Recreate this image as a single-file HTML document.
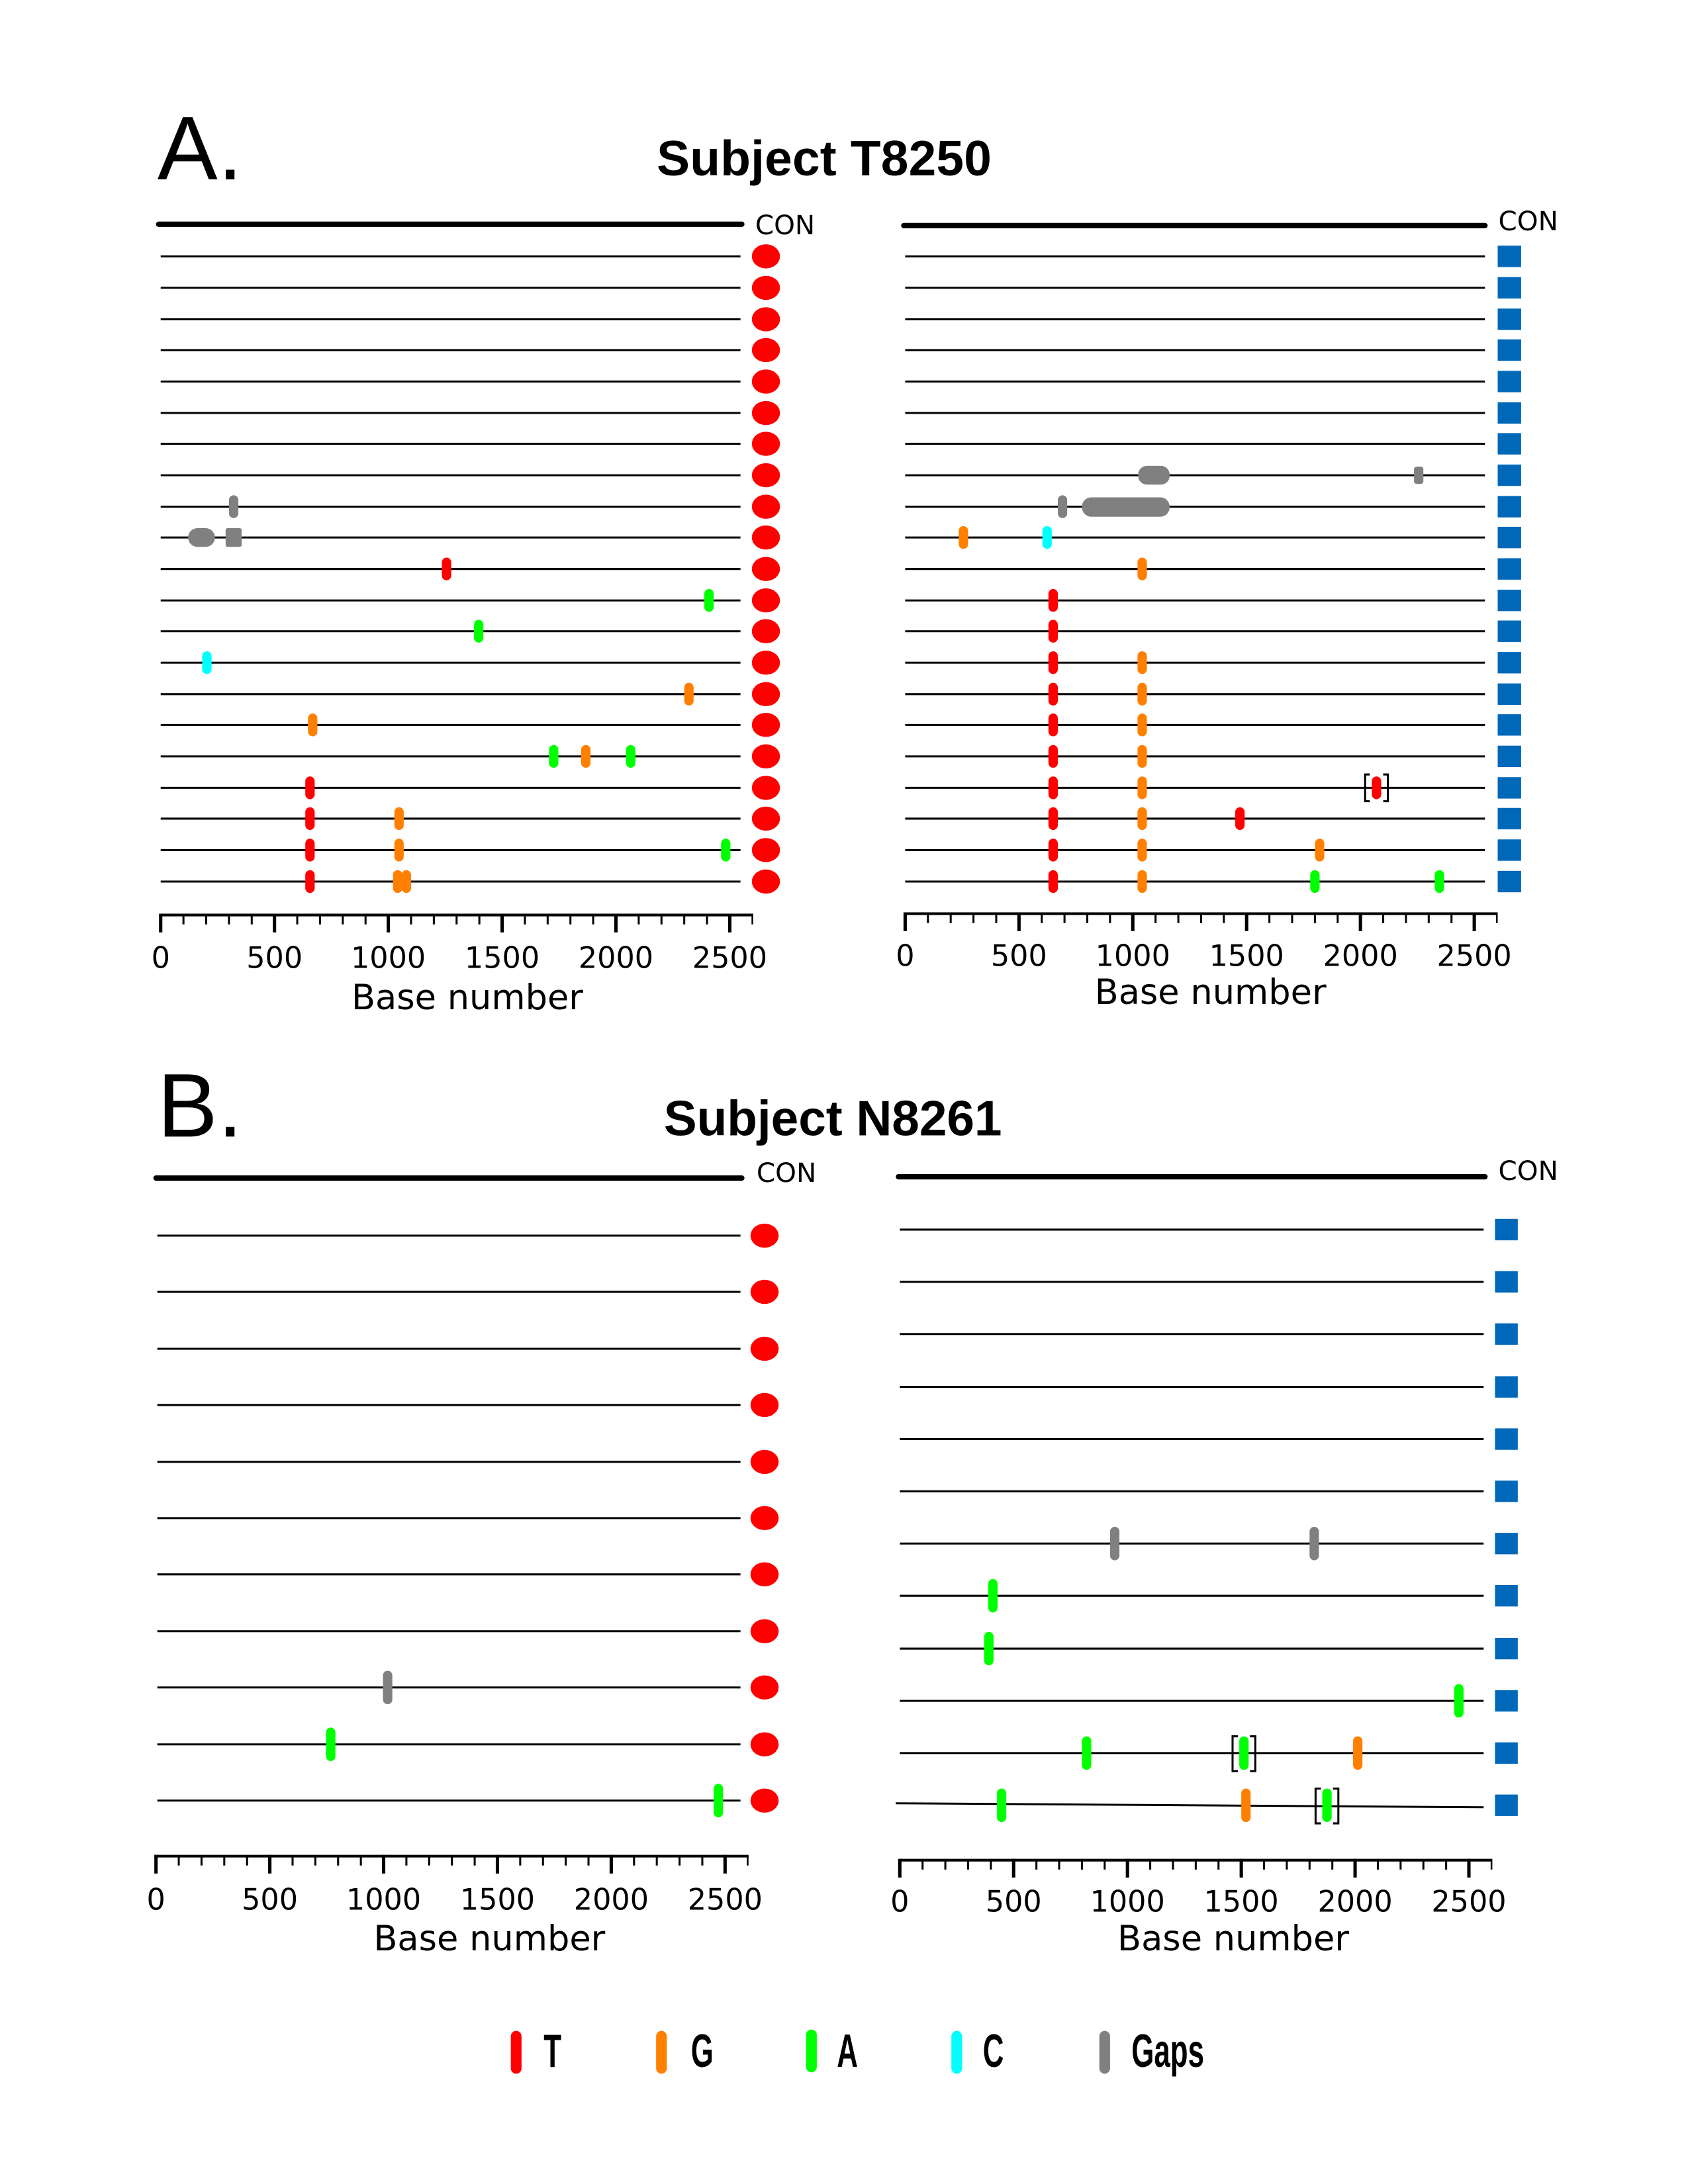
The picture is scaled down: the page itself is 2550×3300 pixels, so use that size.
<!DOCTYPE html>
<html><head><meta charset="utf-8"><style>
html,body{margin:0;padding:0;background:#fff;}
svg{display:block;}
.t{font-family:"DejaVu Sans","Liberation Sans",sans-serif;fill:#000;}
</style></head><body>
<svg width="2550" height="3300" viewBox="0 0 2550 3300" xmlns="http://www.w3.org/2000/svg">
<defs>
<rect id="m" x="-7" y="-17" width="14" height="34" rx="7"/>
<rect id="mb" x="-7" y="-25" width="14" height="50" rx="7"/>
</defs>
<g transform="scale(1.0114)">
<!-- Titles -->
<text x="235" y="268" font-family="Liberation Sans,sans-serif" font-size="135" fill="#000">A.</text>
<text x="1231" y="262" text-anchor="middle" font-family="Liberation Sans,sans-serif" font-weight="bold" font-size="74" textLength="500" fill="#000">Subject T8250</text>
<text x="235" y="1698" font-family="Liberation Sans,sans-serif" font-size="135" fill="#000">B.</text>
<text x="1244" y="1696" text-anchor="middle" font-family="Liberation Sans,sans-serif" font-weight="bold" font-size="74" textLength="505" fill="#000">Subject N8261</text>

<!-- ===== Panel A left ===== -->
<line x1="237" y1="335" x2="1108" y2="335" stroke="#000" stroke-width="8" stroke-linecap="round"/>
<text class="t" x="1128" y="350" font-size="40">CON</text>
<g stroke="#000" stroke-width="3">
<line x1="240" x2="1106" y1="383" y2="383"/><line x1="240" x2="1106" y1="430" y2="430"/><line x1="240" x2="1106" y1="477" y2="477"/><line x1="240" x2="1106" y1="523" y2="523"/><line x1="240" x2="1106" y1="570" y2="570"/><line x1="240" x2="1106" y1="617" y2="617"/><line x1="240" x2="1106" y1="663" y2="663"/><line x1="240" x2="1106" y1="710" y2="710"/><line x1="240" x2="1106" y1="757" y2="757"/><line x1="240" x2="1106" y1="803" y2="803"/><line x1="240" x2="1106" y1="850" y2="850"/><line x1="240" x2="1106" y1="897" y2="897"/><line x1="240" x2="1106" y1="943" y2="943"/><line x1="240" x2="1106" y1="990" y2="990"/><line x1="240" x2="1106" y1="1037" y2="1037"/><line x1="240" x2="1106" y1="1083" y2="1083"/><line x1="240" x2="1106" y1="1130" y2="1130"/><line x1="240" x2="1106" y1="1177" y2="1177"/><line x1="240" x2="1106" y1="1223" y2="1223"/><line x1="240" x2="1106" y1="1270" y2="1270"/><line x1="240" x2="1106" y1="1317" y2="1317"/>
</g>
<g fill="#ff0000">
<ellipse cx="1144" cy="383" rx="21" ry="18"/><ellipse cx="1144" cy="430" rx="21" ry="18"/><ellipse cx="1144" cy="477" rx="21" ry="18"/><ellipse cx="1144" cy="523" rx="21" ry="18"/><ellipse cx="1144" cy="570" rx="21" ry="18"/><ellipse cx="1144" cy="617" rx="21" ry="18"/><ellipse cx="1144" cy="663" rx="21" ry="18"/><ellipse cx="1144" cy="710" rx="21" ry="18"/><ellipse cx="1144" cy="757" rx="21" ry="18"/><ellipse cx="1144" cy="803" rx="21" ry="18"/><ellipse cx="1144" cy="850" rx="21" ry="18"/><ellipse cx="1144" cy="897" rx="21" ry="18"/><ellipse cx="1144" cy="943" rx="21" ry="18"/><ellipse cx="1144" cy="990" rx="21" ry="18"/><ellipse cx="1144" cy="1037" rx="21" ry="18"/><ellipse cx="1144" cy="1083" rx="21" ry="18"/><ellipse cx="1144" cy="1130" rx="21" ry="18"/><ellipse cx="1144" cy="1177" rx="21" ry="18"/><ellipse cx="1144" cy="1223" rx="21" ry="18"/><ellipse cx="1144" cy="1270" rx="21" ry="18"/><ellipse cx="1144" cy="1317" rx="21" ry="18"/>
</g>
<g fill="#808080">
<use href="#m" x="349" y="757"/>
<rect x="281" y="789" width="40" height="28" rx="14"/>
<rect x="337" y="789" width="24" height="28" rx="3"/>
</g>
<g fill="#ff0000">
<use href="#m" x="667" y="850"/>
<use href="#m" x="463" y="1177"/><use href="#m" x="463" y="1223"/><use href="#m" x="463" y="1270"/><use href="#m" x="463" y="1317"/>
</g>
<g fill="#00ff00">
<use href="#m" x="1059" y="897"/><use href="#m" x="715" y="943"/>
<use href="#m" x="827" y="1130"/><use href="#m" x="942" y="1130"/>
<use href="#m" x="1084" y="1270"/>
</g>
<g fill="#00ffff"><use href="#m" x="309" y="990"/></g>
<g fill="#ff8000">
<use href="#m" x="1029" y="1037"/><use href="#m" x="467" y="1083"/><use href="#m" x="875" y="1130"/>
<use href="#m" x="596" y="1223"/><use href="#m" x="596" y="1270"/><use href="#m" x="594" y="1317"/><use href="#m" x="607" y="1317"/>
</g>
<line x1="240" y1="1367" x2="1125" y2="1367" stroke="#000" stroke-width="4"/>
<line x1="240" y1="1374" x2="1125" y2="1374" stroke="#000" stroke-width="14" stroke-dasharray="3 31" stroke-dashoffset="1.5"/>
<g stroke="#000" stroke-width="5"><line x1="240" y1="1365" x2="240" y2="1393"/><line x1="410" y1="1365" x2="410" y2="1393"/><line x1="580" y1="1365" x2="580" y2="1393"/><line x1="750" y1="1365" x2="750" y2="1393"/><line x1="920" y1="1365" x2="920" y2="1393"/><line x1="1090" y1="1365" x2="1090" y2="1393"/></g>
<g class="t" font-size="44" text-anchor="middle"><text x="240" y="1446">0</text><text x="410" y="1446">500</text><text x="580" y="1446">1000</text><text x="750" y="1446">1500</text><text x="920" y="1446">2000</text><text x="1090" y="1446">2500</text></g>
<text class="t" x="698" y="1508" font-size="52" text-anchor="middle">Base number</text>

<!-- ===== Panel A right ===== -->
<line x1="1350" y1="337" x2="2218" y2="337" stroke="#000" stroke-width="8" stroke-linecap="round"/>
<text class="t" x="2238" y="344" font-size="40">CON</text>
<g stroke="#000" stroke-width="3">
<line x1="1352" x2="2218" y1="383" y2="383"/><line x1="1352" x2="2218" y1="430" y2="430"/><line x1="1352" x2="2218" y1="477" y2="477"/><line x1="1352" x2="2218" y1="523" y2="523"/><line x1="1352" x2="2218" y1="570" y2="570"/><line x1="1352" x2="2218" y1="617" y2="617"/><line x1="1352" x2="2218" y1="663" y2="663"/><line x1="1352" x2="2218" y1="710" y2="710"/><line x1="1352" x2="2218" y1="757" y2="757"/><line x1="1352" x2="2218" y1="803" y2="803"/><line x1="1352" x2="2218" y1="850" y2="850"/><line x1="1352" x2="2218" y1="897" y2="897"/><line x1="1352" x2="2218" y1="943" y2="943"/><line x1="1352" x2="2218" y1="990" y2="990"/><line x1="1352" x2="2218" y1="1037" y2="1037"/><line x1="1352" x2="2218" y1="1083" y2="1083"/><line x1="1352" x2="2218" y1="1130" y2="1130"/><line x1="1352" x2="2218" y1="1177" y2="1177"/><line x1="1352" x2="2218" y1="1223" y2="1223"/><line x1="1352" x2="2218" y1="1270" y2="1270"/><line x1="1352" x2="2218" y1="1317" y2="1317"/>
</g>
<g fill="#0068b8">
<rect x="2237" y="367" width="35" height="32"/><rect x="2237" y="414" width="35" height="32"/><rect x="2237" y="461" width="35" height="32"/><rect x="2237" y="507" width="35" height="32"/><rect x="2237" y="554" width="35" height="32"/><rect x="2237" y="601" width="35" height="32"/><rect x="2237" y="647" width="35" height="32"/><rect x="2237" y="694" width="35" height="32"/><rect x="2237" y="741" width="35" height="32"/><rect x="2237" y="787" width="35" height="32"/><rect x="2237" y="834" width="35" height="32"/><rect x="2237" y="881" width="35" height="32"/><rect x="2237" y="927" width="35" height="32"/><rect x="2237" y="974" width="35" height="32"/><rect x="2237" y="1021" width="35" height="32"/><rect x="2237" y="1067" width="35" height="32"/><rect x="2237" y="1114" width="35" height="32"/><rect x="2237" y="1161" width="35" height="32"/><rect x="2237" y="1207" width="35" height="32"/><rect x="2237" y="1254" width="35" height="32"/><rect x="2237" y="1301" width="35" height="32"/>
</g>
<g fill="#808080">
<rect x="1700" y="696" width="47" height="28" rx="13"/>
<rect x="2112" y="697" width="14" height="26" rx="4"/>
<use href="#m" x="1587" y="757"/>
<rect x="1616" y="743" width="131" height="29" rx="14"/>
</g>
<g fill="#ff8000">
<use href="#m" x="1439" y="803"/><use href="#m" x="1706" y="850"/>
<use href="#m" x="1706" y="990"/><use href="#m" x="1706" y="1037"/><use href="#m" x="1706" y="1083"/><use href="#m" x="1706" y="1130"/><use href="#m" x="1706" y="1177"/><use href="#m" x="1706" y="1223"/><use href="#m" x="1706" y="1270"/><use href="#m" x="1706" y="1317"/>
<use href="#m" x="1971" y="1270"/>
</g>
<g fill="#00ffff"><use href="#m" x="1564" y="803"/></g>
<g fill="#ff0000">
<use href="#m" x="1573" y="897"/><use href="#m" x="1573" y="943"/><use href="#m" x="1573" y="990"/><use href="#m" x="1573" y="1037"/><use href="#m" x="1573" y="1083"/><use href="#m" x="1573" y="1130"/><use href="#m" x="1573" y="1177"/><use href="#m" x="1573" y="1223"/><use href="#m" x="1573" y="1270"/><use href="#m" x="1573" y="1317"/>
<use href="#m" x="2056" y="1177"/><use href="#m" x="1852" y="1223"/>
</g>
<path d="M2046 1157 h-7 v40 h7 M2066 1157 h7 v40 h-7" fill="none" stroke="#000" stroke-width="3"/>
<g fill="#00ff00"><use href="#m" x="1964" y="1317"/><use href="#m" x="2150" y="1317"/></g>
<line x1="1352" y1="1365" x2="2237" y2="1365" stroke="#000" stroke-width="4"/>
<line x1="1352" y1="1372" x2="2237" y2="1372" stroke="#000" stroke-width="14" stroke-dasharray="3 31" stroke-dashoffset="1.5"/>
<g stroke="#000" stroke-width="5"><line x1="1352" y1="1363" x2="1352" y2="1391"/><line x1="1522" y1="1363" x2="1522" y2="1391"/><line x1="1692" y1="1363" x2="1692" y2="1391"/><line x1="1862" y1="1363" x2="1862" y2="1391"/><line x1="2032" y1="1363" x2="2032" y2="1391"/><line x1="2202" y1="1363" x2="2202" y2="1391"/></g>
<g class="t" font-size="44" text-anchor="middle"><text x="1352" y="1443">0</text><text x="1522" y="1443">500</text><text x="1692" y="1443">1000</text><text x="1862" y="1443">1500</text><text x="2032" y="1443">2000</text><text x="2202" y="1443">2500</text></g>
<text class="t" x="1808" y="1500" font-size="52" text-anchor="middle">Base number</text>

<!-- ===== Panel B left ===== -->
<line x1="233" y1="1760" x2="1108" y2="1760" stroke="#000" stroke-width="8" stroke-linecap="round"/>
<text class="t" x="1130" y="1766" font-size="40">CON</text>
<g stroke="#000" stroke-width="3">
<line x1="235" x2="1106" y1="1846" y2="1846"/><line x1="235" x2="1106" y1="1930" y2="1930"/><line x1="235" x2="1106" y1="2015" y2="2015"/><line x1="235" x2="1106" y1="2099" y2="2099"/><line x1="235" x2="1106" y1="2184" y2="2184"/><line x1="235" x2="1106" y1="2268" y2="2268"/><line x1="235" x2="1106" y1="2352" y2="2352"/><line x1="235" x2="1106" y1="2437" y2="2437"/><line x1="235" x2="1106" y1="2521" y2="2521"/><line x1="235" x2="1106" y1="2606" y2="2606"/><line x1="235" x2="1106" y1="2690" y2="2690"/>
</g>
<g fill="#ff0000">
<ellipse cx="1142" cy="1846" rx="21" ry="18"/><ellipse cx="1142" cy="1930" rx="21" ry="18"/><ellipse cx="1142" cy="2015" rx="21" ry="18"/><ellipse cx="1142" cy="2099" rx="21" ry="18"/><ellipse cx="1142" cy="2184" rx="21" ry="18"/><ellipse cx="1142" cy="2268" rx="21" ry="18"/><ellipse cx="1142" cy="2352" rx="21" ry="18"/><ellipse cx="1142" cy="2437" rx="21" ry="18"/><ellipse cx="1142" cy="2521" rx="21" ry="18"/><ellipse cx="1142" cy="2606" rx="21" ry="18"/><ellipse cx="1142" cy="2690" rx="21" ry="18"/>
</g>
<g fill="#808080"><use href="#mb" x="579" y="2521"/></g>
<g fill="#00ff00"><use href="#mb" x="494" y="2606"/><use href="#mb" x="1073" y="2690"/></g>
<line x1="233" y1="2773" x2="1118" y2="2773" stroke="#000" stroke-width="4"/>
<line x1="233" y1="2780" x2="1118" y2="2780" stroke="#000" stroke-width="14" stroke-dasharray="3 31" stroke-dashoffset="1.5"/>
<g stroke="#000" stroke-width="5"><line x1="233" y1="2771" x2="233" y2="2799"/><line x1="403" y1="2771" x2="403" y2="2799"/><line x1="573" y1="2771" x2="573" y2="2799"/><line x1="743" y1="2771" x2="743" y2="2799"/><line x1="913" y1="2771" x2="913" y2="2799"/><line x1="1083" y1="2771" x2="1083" y2="2799"/></g>
<g class="t" font-size="44" text-anchor="middle"><text x="233" y="2853">0</text><text x="403" y="2853">500</text><text x="573" y="2853">1000</text><text x="743" y="2853">1500</text><text x="913" y="2853">2000</text><text x="1083" y="2853">2500</text></g>
<text class="t" x="731" y="2914" font-size="52" text-anchor="middle">Base number</text>

<!-- ===== Panel B right ===== -->
<line x1="1342" y1="1758" x2="2218" y2="1758" stroke="#000" stroke-width="8" stroke-linecap="round"/>
<text class="t" x="2238" y="1763" font-size="40">CON</text>
<g stroke="#000" stroke-width="3">
<line x1="1344" x2="2216" y1="1837" y2="1837"/><line x1="1344" x2="2216" y1="1915" y2="1915"/><line x1="1344" x2="2216" y1="1993" y2="1993"/><line x1="1344" x2="2216" y1="2072" y2="2072"/><line x1="1344" x2="2216" y1="2150" y2="2150"/><line x1="1344" x2="2216" y1="2228" y2="2228"/><line x1="1344" x2="2216" y1="2306" y2="2306"/><line x1="1344" x2="2216" y1="2384" y2="2384"/><line x1="1344" x2="2216" y1="2463" y2="2463"/><line x1="1344" x2="2216" y1="2541" y2="2541"/><line x1="1344" x2="2216" y1="2619" y2="2619"/><line x1="1338" x2="2216" y1="2694" y2="2700"/>
</g>
<g fill="#0068b8">
<rect x="2233" y="1821" width="34" height="32"/><rect x="2233" y="1899" width="34" height="32"/><rect x="2233" y="1977" width="34" height="32"/><rect x="2233" y="2056" width="34" height="32"/><rect x="2233" y="2134" width="34" height="32"/><rect x="2233" y="2212" width="34" height="32"/><rect x="2233" y="2290" width="34" height="32"/><rect x="2233" y="2368" width="34" height="32"/><rect x="2233" y="2447" width="34" height="32"/><rect x="2233" y="2525" width="34" height="32"/><rect x="2233" y="2603" width="34" height="32"/><rect x="2233" y="2681" width="34" height="32"/>
</g>
<g fill="#808080"><use href="#mb" x="1665" y="2306"/><use href="#mb" x="1963" y="2306"/></g>
<g fill="#00ff00">
<use href="#mb" x="1483" y="2384"/><use href="#mb" x="1477" y="2463"/><use href="#mb" x="2179" y="2541"/>
<use href="#mb" x="1623" y="2619"/><use href="#mb" x="1858" y="2619"/>
<use href="#mb" x="1496" y="2697"/><use href="#mb" x="1982" y="2697"/>
</g>
<g fill="#ff8000"><use href="#mb" x="2028" y="2619"/><use href="#mb" x="1861" y="2697"/></g>
<path d="M1849 2594 h-8 v52 h8 M1867 2594 h8 v52 h-8 M1973 2672 h-8 v52 h8 M1991 2672 h8 v52 h-8" fill="none" stroke="#000" stroke-width="3"/>
<line x1="1344" y1="2779" x2="2229" y2="2779" stroke="#000" stroke-width="4"/>
<line x1="1344" y1="2786" x2="2229" y2="2786" stroke="#000" stroke-width="14" stroke-dasharray="3 31" stroke-dashoffset="1.5"/>
<g stroke="#000" stroke-width="5"><line x1="1344" y1="2777" x2="1344" y2="2805"/><line x1="1514" y1="2777" x2="1514" y2="2805"/><line x1="1684" y1="2777" x2="1684" y2="2805"/><line x1="1854" y1="2777" x2="1854" y2="2805"/><line x1="2024" y1="2777" x2="2024" y2="2805"/><line x1="2194" y1="2777" x2="2194" y2="2805"/></g>
<g class="t" font-size="44" text-anchor="middle"><text x="1344" y="2856">0</text><text x="1514" y="2856">500</text><text x="1684" y="2856">1000</text><text x="1854" y="2856">1500</text><text x="2024" y="2856">2000</text><text x="2194" y="2856">2500</text></g>
<text class="t" x="1842" y="2914" font-size="52" text-anchor="middle">Base number</text>

<!-- ===== Legend ===== -->
<rect x="763" y="3034" width="16" height="64" rx="8" fill="#ff0000"/>
<rect x="980" y="3034" width="16" height="64" rx="8" fill="#ff8000"/>
<rect x="1204" y="3032" width="16" height="64" rx="8" fill="#00ff00"/>
<rect x="1421" y="3034" width="16" height="64" rx="8" fill="#00ffff"/>
<rect x="1642" y="3034" width="16" height="64" rx="8" fill="#808080"/>
<g font-family="Liberation Sans,sans-serif" font-weight="bold" font-size="70" fill="#000">
<text x="0" y="3088" transform="translate(812 0) scale(0.62 1)">T</text>
<text x="0" y="3088" transform="translate(1032 0) scale(0.62 1)">G</text>
<text x="0" y="3088" transform="translate(1250 0) scale(0.62 1)">A</text>
<text x="0" y="3088" transform="translate(1468 0) scale(0.62 1)">C</text>
<text x="0" y="3088" transform="translate(1690 0) scale(0.62 1)">Gaps</text>
</g>
</g>
</svg>
</body></html>
